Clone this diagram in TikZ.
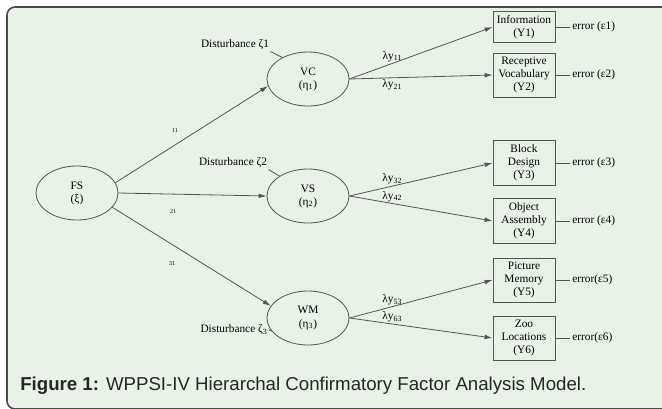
\documentclass[tikz,border=0pt]{standalone}
\usepackage{fontspec}
\setmainfont{Liberation Serif}
\newfontfamily\capfont{Liberation Sans}
\usetikzlibrary{shapes.geometric,arrows.meta,positioning}
\definecolor{panelgreen}{HTML}{E8F2E7}
\definecolor{linegray}{HTML}{555555}
\definecolor{framegray}{HTML}{4A4A4A}

\begin{document}
\begin{tikzpicture}[x=0.75pt, y=-0.75pt, node distance=11pt, auto,
    font=\fontsize{8.5}{9.8}\selectfont,
    latent/.style={draw=linegray, ellipse, minimum width=61.5pt, minimum height=40.5pt, inner sep=0pt, align=center, line width=0.6pt},
    observed/.style={draw=linegray, rectangle, minimum width=46.5pt, inner xsep=2pt, inner ysep=3pt, align=center, line width=0.6pt},
    link/.style={-{Latex[length=6pt,width=3.5pt]}, draw=linegray, line width=0.6pt},
    plain/.style={draw=linegray, line width=0.6pt},
    coef/.style={font=\fontsize{4.5}{5}\selectfont, inner sep=0pt},
    load/.style={inner sep=1pt, pos=0.3},
    errlabel/.style={inner sep=1.5pt},
    dist/.style={inner sep=1pt}]
    % Panel
    \useasboundingbox (0,0) rectangle (662,408);
    \clip (0,0) rectangle (662,408);
    \fill [white] (0,0) rectangle (662,408);
    \filldraw [fill=panelgreen, draw=framegray, line width=1.2pt, rounded corners=6pt]
        (680,409) -- (7,409) -- (7,7) -- (680,7) -- cycle;

    % Nodes
    \node [latent] (fs) at (77,193) {FS\\(ξ)};
    \node [latent] (vc) at (308,79) {VC\\(η\textsubscript{1})};
    \node [latent] (vs) at (308,196) {VS\\(η\textsubscript{2})};
    \node [latent] (wm) at (308,318) {WM\\(η\textsubscript{3})};

    \node [observed] (y1) at (524,27) {Information\\(Y1)};
    \node [observed] (y2) at (524,75) {Receptive\\Vocabulary\\(Y2)};
    \node [observed] (y3) at (524,163) {Block\\Design\\(Y3)};
    \node [observed] (y4) at (524,221) {Object\\Assembly\\(Y4)};
    \node [observed] (y5) at (524,280) {Picture\\Memory\\(Y5)};
    \node [observed] (y6) at (524,338) {Zoo\\Locations\\(Y6)};

    \node [errlabel, right=of y1] (e1) {error (ε1)};
    \node [errlabel, right=of y2] (e2) {error (ε2)};
    \node [errlabel, right=of y3] (e3) {error (ε3)};
    \node [errlabel, right=of y4] (e4) {error (ε4)};
    \node [errlabel, right=of y5] (e5) {error(ε5)};
    \node [errlabel, right=of y6] (e6) {error(ε6)};

    \node [dist] (d1) at (235,45) {Disturbance ζ1};
    \node [dist] (d2) at (233,163) {Disturbance ζ2};
    \node [dist] (d3) at (234,330) {Disturbance ζ\textsubscript{3}};

    % Arrows
    \draw [link] (fs.15) -- (vc.190);
    \draw [link] (fs.east) -- (vs.west);
    \draw [link] (fs.-22) -- (wm.162);

    \draw [link] (vc.east) -- node [load, above] (l11) {λy\textsubscript{11}} (y1.west);
    \draw [link] (vc.east) -- node [load, below] (l21) {λy\textsubscript{21}} (y2.west);
    \draw [link] (vs.east) -- node [load, above] (l32) {λy\textsubscript{32}} (y3.west);
    \draw [link] (vs.east) -- node [load, above] (l42) {λy\textsubscript{42}} (y4.west);
    \draw [link] (wm.east) -- node [load, above] (l53) {λy\textsubscript{53}} (y5.west);
    \draw [link] (wm.east) -- node [load, above] (l63) {λy\textsubscript{63}} (y6.west);

    \draw [plain] (y1) -- (e1);
    \draw [plain] (y2) -- (e2);
    \draw [plain] (y3) -- (e3);
    \draw [plain] (y4) -- (e4);
    \draw [plain] (y5) -- (e5);
    \draw [plain] (y6) -- (e6);

    \draw [plain] (d1.south east) -- (vc.140);
    \draw [plain] (d2.south east) -- (vs.145);
    \draw [plain] (d3.east) -- (wm.200);

    % Labels
    \node [coef] (c11) at (175,131) {11};
    \node [coef] (c21) at (173,212) {21};
    \node [coef] (c31) at (172,264) {31};

    \node [anchor=base west, inner sep=0pt, text=black!85, font=\capfont\fontsize{14}{16}\selectfont] (caption) at (20,390)
        {\textbf{Figure 1:} WPPSI-IV Hierarchal Confirmatory Factor Analysis Model.};
\end{tikzpicture}
\end{document}
